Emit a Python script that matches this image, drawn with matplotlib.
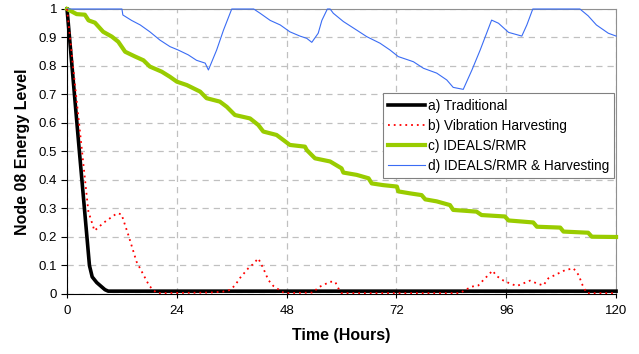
import matplotlib
matplotlib.use("Agg")
import matplotlib.pyplot as plt

plt.rcParams['font.family'] = ['Liberation Sans', 'DejaVu Sans']

# a) Traditional
trad_t = [0, 2.7, 4.9, 5.5, 6.5, 8.3, 9, 120]
trad_e = [1.0, 0.5, 0.1, 0.06, 0.04, 0.015, 0.01, 0.01]

# b) Vibration Harvesting
vib_t = [0, 4.66, 6.0, 8, 10.9, 11.9, 13.4, 15.2, 18, 19.6, 31.3, 34, 35.6, 36.7,
         37.8, 39.6, 40.6, 41.8, 42.9, 44, 45.1, 46.6, 47.5, 53.8, 54.9, 57.5, 58.6,
         59.3, 60, 85.9, 87, 88.5, 89.9, 91, 92.1, 93, 93.9, 95.4, 96.8, 98.3, 99.7,
         101.2, 102.7, 104.1, 105.2, 106.7, 108.9, 110.7, 111.8, 112.7, 113.6, 120]
vib_e = [1.0, 0.29, 0.222, 0.25, 0.283, 0.28, 0.207, 0.113, 0.028, 0.003, 0.005,
         0.008, 0.014, 0.03, 0.056, 0.09, 0.104, 0.125, 0.09, 0.049, 0.028, 0.012,
         0.003, 0.005, 0.023, 0.043, 0.043, 0.02, 0.003, 0.003, 0.014, 0.026, 0.03,
         0.049, 0.067, 0.082, 0.063, 0.047, 0.037, 0.028, 0.037, 0.047, 0.037, 0.03,
         0.055, 0.067, 0.084, 0.09, 0.067, 0.03, 0.003, 0.003]

# c) IDEALS/RMR
rmr_t = [0, 2.1, 3.9, 4.7, 6.1, 7.9, 9.8, 11.2, 12.7, 14.9, 16.7, 18.1, 20.7, 22.5,
         24, 26.2, 29.1, 30.5, 33.4, 34.9, 36.7, 40, 41.8, 42.9, 45.8, 47.3, 48.7,
         52, 52.4, 54.2, 57.5, 60, 60.4, 63.3, 65.9, 66.6, 69.1, 72.1, 72.4, 75,
         77.5, 78.3, 80.8, 83.7, 84.4, 89.5, 90.6, 95.7, 96.5, 101.9, 102.7, 107.8,
         108.5, 113.9, 114.7, 120]
rmr_e = [1.0, 0.982, 0.98, 0.96, 0.952, 0.92, 0.903, 0.885, 0.85, 0.833, 0.82,
         0.798, 0.78, 0.762, 0.745, 0.733, 0.71, 0.687, 0.675, 0.657, 0.628, 0.616,
         0.593, 0.57, 0.558, 0.54, 0.523, 0.517, 0.505, 0.476, 0.465, 0.441, 0.426,
         0.418, 0.406, 0.388, 0.382, 0.377, 0.36, 0.353, 0.347, 0.332, 0.325, 0.312,
         0.295, 0.289, 0.277, 0.272, 0.258, 0.251, 0.236, 0.233, 0.219, 0.215,
         0.201, 0.2]

# d) IDEALS/RMR & Harvesting
both_t = [0, 12, 12.2, 14.1, 16, 18.1, 20.3, 22.5, 24.3, 26.5, 28.3, 30.2, 30.9,
          32.7, 34.2, 36, 40.8, 42.2, 44.4, 46.6, 48.7, 50.9, 52.4, 53.5, 54.9, 55.7,
          56.9, 57.5, 58.2, 60.4, 63.3, 65.5, 68.4, 70.6, 72.4, 75.7, 77.9, 80.8, 83,
          84.4, 86.6, 88.5, 90.3, 92.8, 94.3, 96.5, 99.4, 100.5, 101.8, 112.1, 113.9,
          115.7, 118.3, 120]
both_e = [1.0, 1.0, 0.979, 0.96, 0.944, 0.92, 0.891, 0.868, 0.856, 0.839, 0.82,
          0.81, 0.786, 0.856, 0.926, 1.0, 1.0, 0.985, 0.96, 0.944, 0.92, 0.905, 0.897,
          0.883, 0.915, 0.96, 1.0, 1.0, 0.985, 0.956, 0.926, 0.903, 0.88, 0.856,
          0.833, 0.815, 0.792, 0.775, 0.751, 0.725, 0.718, 0.786, 0.856, 0.961, 0.95,
          0.918, 0.905, 0.944, 1.0, 1.0, 0.976, 0.944, 0.915, 0.905]

fig = plt.figure(figsize=(6.39, 3.54), dpi=100)
ax = fig.add_axes([0.1049, 0.1695, 0.8592, 0.8051])

ax.plot(trad_t, trad_e, color='black', lw=2.6, label='a) Traditional',
        zorder=3, clip_on=False)
ax.plot(vib_t, vib_e, color='#ff0000', lw=1.3, ls=(0, (1, 2.2)),
        label='b) Vibration Harvesting', zorder=4, clip_on=False)
ax.plot(rmr_t, rmr_e, color='#99cc00', lw=3, label='c) IDEALS/RMR',
        zorder=3, clip_on=False)
ax.plot(both_t, both_e, color='#3a6cf4', lw=0.8,
        label='d) IDEALS/RMR & Harvesting', zorder=3, clip_on=False)

ax.set_xlim(0, 120)
ax.set_ylim(0, 1)
ax.set_xticks([0, 24, 48, 72, 96, 120])
ax.set_yticks([0, 0.1, 0.2, 0.3, 0.4, 0.5, 0.6, 0.7, 0.8, 0.9, 1])
ax.set_yticklabels(['0', '0.1', '0.2', '0.3', '0.4', '0.5', '0.6', '0.7', '0.8',
                    '0.9', '1'])
ax.grid(True, color='#c0c0c0', ls=(0, (5, 4)), lw=0.9)
ax.set_axisbelow(True)

ax.spines['left'].set_color('black')
ax.spines['bottom'].set_color('black')
ax.spines['top'].set_color('#909090')
ax.spines['right'].set_color('#909090')
ax.tick_params(axis='x', direction='inout', length=6, labelsize=9.5, pad=5)
ax.tick_params(axis='y', direction='out', length=4, labelsize=9.5, pad=3)

ax.set_xlabel('Time (Hours)', fontsize=11.5, fontweight='bold', labelpad=8)
ax.set_ylabel('Node 08 Energy Level', fontsize=11.5, fontweight='bold', labelpad=6)

leg = ax.legend(loc='upper left', bbox_to_anchor=(0.575, 0.705), borderaxespad=0,
                fontsize=9.8, fancybox=False, edgecolor='#808080',
                handlelength=2.7, handletextpad=0.2, labelspacing=0.45,
                borderpad=0.4, framealpha=1)
leg.get_frame().set_linewidth(0.8)
leg.set_zorder(6)

fig.savefig('out.png', dpi=100)
